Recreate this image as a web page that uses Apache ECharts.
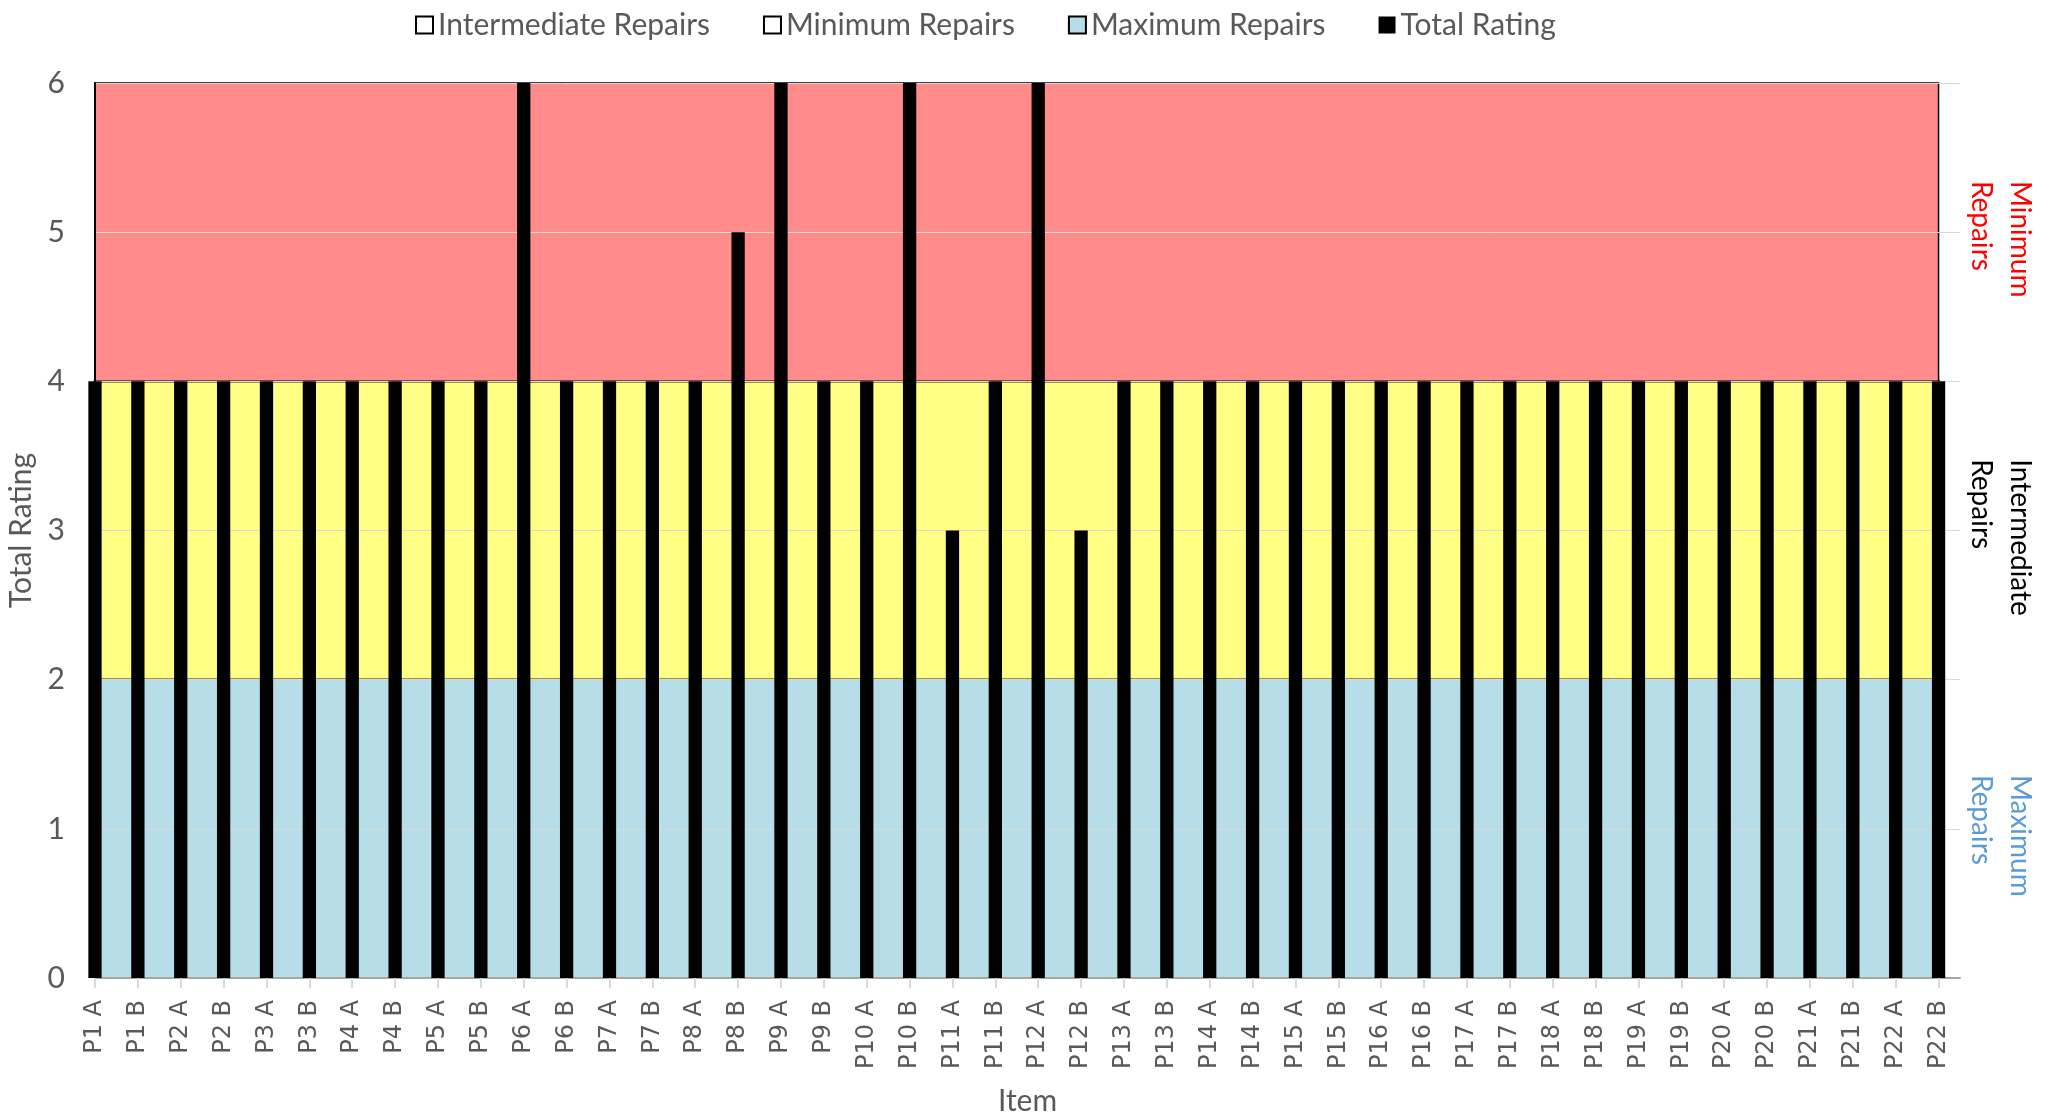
<!DOCTYPE html>
<html>
<head>
<meta charset="utf-8">
<script src="https://cdn.jsdelivr.net/npm/echarts@6/dist/echarts.min.js"></script>
<style>
    html, body { margin: 0; padding: 0; background: #fff; }
    #chart { width: 2049px; height: 1118px; }
</style>
</head>
<body>
<div id="chart"></div>
<script>
var items = ['P1 A', 'P1 B', 'P2 A', 'P2 B', 'P3 A', 'P3 B', 'P4 A', 'P4 B', 'P5 A', 'P5 B',
    'P6 A', 'P6 B', 'P7 A', 'P7 B', 'P8 A', 'P8 B', 'P9 A', 'P9 B', 'P10 A', 'P10 B',
    'P11 A', 'P11 B', 'P12 A', 'P12 B', 'P13 A', 'P13 B', 'P14 A', 'P14 B', 'P15 A', 'P15 B',
    'P16 A', 'P16 B', 'P17 A', 'P17 B', 'P18 A', 'P18 B', 'P19 A', 'P19 B', 'P20 A', 'P20 B',
    'P21 A', 'P21 B', 'P22 A', 'P22 B'];
var totalRating = [4, 4, 4, 4, 4, 4, 4, 4, 4, 4,
    6, 4, 4, 4, 4, 5, 6, 4, 4, 6,
    3, 4, 6, 3, 4, 4, 4, 4, 4, 4,
    4, 4, 4, 4, 4, 4, 4, 4, 4, 4,
    4, 4, 4, 4];

// rating bands: [from, to]
var maximumBand = [0, 2];
var intermediateBand = [2, 4];
var minimumBand = [4, 6];
var yTicks = [0, 1, 2, 3, 4, 5, 6];

var myChart = echarts.init(document.getElementById('chart'));

var idx = items.map(function (d, i) { return i; });
var lastIdx = items.length - 1;
var font = 'Lato';
var grey = '#595959';

function band(range, color, border, width) {
    return {
        silent: true,
        itemStyle: { color: color, borderColor: border, borderWidth: border ? width : 0 },
        data: [[{ xAxis: 0, yAxis: range[0] }, { xAxis: lastIdx, yAxis: range[1] }]]
    };
}

function sideLabel(color) {
    return { color: color, fontFamily: font, fontSize: 28, lineHeight: 39, align: 'left', padding: [0, 0, 0, 14] };
}

var option = {
    animation: false,
    legend: {
        top: 5,
        left: 410,
        itemWidth: 17,
        itemHeight: 17,
        itemGap: 53,
        textStyle: { fontFamily: font, fontSize: 30, color: grey },
        data: [
            { name: 'Intermediate Repairs', icon: 'rect', itemStyle: { color: '#fff', borderColor: '#000', borderWidth: 2 } },
            { name: 'Minimum Repairs', icon: 'rect', itemStyle: { color: '#fff', borderColor: '#000', borderWidth: 2 } },
            { name: 'Maximum Repairs', icon: 'rect', itemStyle: { color: '#B7DEE8', borderColor: '#000', borderWidth: 2 } },
            { name: 'Total Rating', icon: 'rect', itemStyle: { color: '#000', borderWidth: 0 } }
        ]
    },
    grid: {
        left: 95,
        right: 89,
        top: 83,
        bottom: 140,
        outerBoundsMode: 'none'
    },
    xAxis: {
        type: 'value',
        min: 0,
        max: lastIdx + 0.5,
        z: 3,
        name: 'Item',
        nameLocation: 'middle',
        nameGap: 108,
        nameTextStyle: { fontFamily: font, fontSize: 30, color: grey },
        splitLine: { show: false },
        axisLine: { lineStyle: { color: '#a6a6a6', width: 2 } },
        axisTick: { customValues: idx, length: 10, lineStyle: { color: '#d9d9d9', width: 2 } },
        axisLabel: {
            customValues: idx,
            rotate: 90,
            margin: 22,
            fontFamily: 'DejaVu Sans',
            fontSize: 24,
            color: grey,
            formatter: function (v) { return items[v] || ''; }
        }
    },
    yAxis: [{
        type: 'value',
        min: 0,
        max: 6,
        interval: 1,
        z: 3,
        name: 'Total Rating',
        nameLocation: 'middle',
        nameRotate: 90,
        nameGap: 58,
        nameTextStyle: { fontFamily: font, fontSize: 30, color: grey },
        axisLine: { show: true, lineStyle: { color: '#000', width: 2 } },
        axisTick: { show: false },
        splitLine: { lineStyle: { color: '#d9d9d9', width: 1 } },
        axisLabel: {
            customValues: yTicks,
            margin: 30,
            fontFamily: font,
            fontSize: 30,
            color: grey
        }
    }, {
        type: 'value',
        min: 0,
        max: 6,
        position: 'right',
        axisLine: { show: false },
        axisTick: { show: false },
        splitLine: { show: false },
        axisLabel: {
            customValues: [
                (minimumBand[0] + minimumBand[1]) / 2,
                (intermediateBand[0] + intermediateBand[1]) / 2,
                (maximumBand[0] + maximumBand[1]) / 2
            ],
            rotate: -90,
            margin: 2,
            formatter: function (v) {
                if (v === 5) return '{min|Minimum}\n{min|Repairs}';
                if (v === 3) return '{int|Intermediate}\n{int|Repairs}';
                return '{max|Maximum}\n{max|Repairs}';
            },
            rich: {
                min: sideLabel('#FF0000'),
                int: sideLabel('#000000'),
                max: sideLabel('#5B9BD5')
            }
        }
    }],
    series: [
        {
            name: 'Intermediate Repairs',
            type: 'line',
            data: [],
            markArea: band(intermediateBand, '#FFFF85', '#2b2b00', 2.5)
        },
        {
            name: 'Minimum Repairs',
            type: 'line',
            data: [],
            markArea: band(minimumBand, '#FF8B8B', '#000', 1.5)
        },
        {
            name: 'Maximum Repairs',
            type: 'line',
            data: [],
            markArea: band(maximumBand, '#B7DEE8', null, 0)
        },
        {
            name: 'Total Rating',
            type: 'bar',
            z: 5,
            barWidth: '31%',
            itemStyle: { color: '#000' },
            data: totalRating.map(function (v, i) { return [i, v]; })
        }
    ]
};

myChart.setOption(option);
</script>
</body>
</html>
